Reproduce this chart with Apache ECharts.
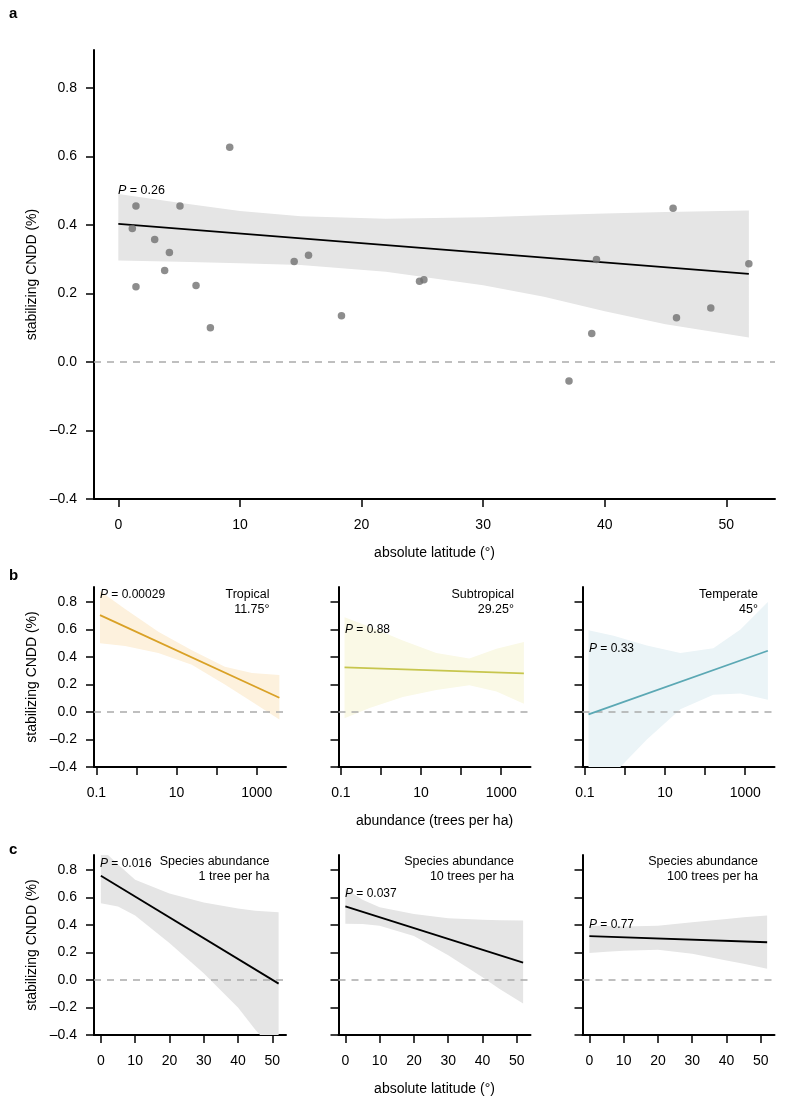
<!DOCTYPE html>
<html>
<head>
<meta charset="utf-8">
<script src="https://cdn.jsdelivr.net/npm/echarts@6/dist/echarts.min.js"></script>
<style>html,body{margin:0;padding:0;background:#fff}#chart{width:792px;height:1100px}</style>
</head>
<body>
<div id="chart"></div>
<script>
// ---------- DATA ----------
// Panel a: site points
const latA = [9.16,1.45,5.07,1.15,2.99,4.2,3.81,1.45,6.39,7.57,14.46,15.64,18.35,24.77,25.13,45.62,39.32,51.85,48.72,45.9,38.93,37.06];
const cnddA = [0.626,0.455,0.455,0.389,0.357,0.319,0.267,0.219,0.223,0.100,0.293,0.311,0.135,0.235,0.240,0.448,0.299,0.286,0.157,0.129,0.083,-0.056];
const fitLatA = [0, 51.85];
const fitA = [0.403, 0.257];
const bandLatA = [0, 5, 10, 15, 22, 30, 35, 40, 45, 51.85];
const bandAUpper = [0.49, 0.464, 0.44, 0.425, 0.418, 0.422, 0.428, 0.433, 0.437, 0.442];
const bandALower = [0.296, 0.292, 0.288, 0.283, 0.263, 0.224, 0.19, 0.148, 0.11, 0.071];

// Panel b: abundance effect by climate zone
const zonesB = ['Tropical', 'Subtropical', 'Temperate'];
const zoneLatB = ['11.75°', '29.25°', '45°'];
const pB = ['0.00029', '0.88', '0.33'];
const fitAbund = [0.123, 3670];
const fitB = [[0.705, 0.104], [0.325, 0.281], [-0.017, 0.446]];
const bandAbund = [0.123, 0.52, 3.5, 24, 160, 760, 3670];
const bandBUpper = [
  [0.88, 0.75, 0.585, 0.45, 0.33, 0.285, 0.27],
  [0.69, 0.62, 0.52, 0.43, 0.39, 0.46, 0.51],
  [0.595, 0.555, 0.485, 0.43, 0.465, 0.60, 0.80]
];
const bandBLower = [
  [0.50, 0.48, 0.43, 0.345, 0.20, 0.075, -0.055],
  [-0.045, 0.03, 0.11, 0.16, 0.195, 0.15, 0.06],
  [-0.63, -0.45, -0.2, 0.02, 0.125, 0.135, 0.09]
];

// Panel c: latitude effect at given species abundance
const abundLabelsC = ['1 tree per ha', '10 trees per ha', '100 trees per ha'];
const pC = ['0.016', '0.037', '0.77'];
const fitLatC = [0, 51.85];
const fitC = [[0.759, -0.026], [0.536, 0.126], [0.319, 0.275]];
const bandLatC = [0, 5, 10, 20, 30, 40, 45, 51.85];
const bandCUpper = [
  [0.96, 0.84, 0.73, 0.63, 0.565, 0.52, 0.505, 0.493],
  [0.667, 0.585, 0.53, 0.48, 0.45, 0.438, 0.435, 0.433],
  [0.396, 0.393, 0.39, 0.395, 0.42, 0.445, 0.457, 0.469]
];
const bandCLower = [
  [0.558, 0.535, 0.47, 0.27, 0.05, -0.2, -0.36, -0.55],
  [0.409, 0.407, 0.395, 0.32, 0.18, 0.02, -0.065, -0.171],
  [0.196, 0.205, 0.213, 0.22, 0.192, 0.143, 0.118, 0.082]
];

// Tick values
const yTicks = [-0.4, -0.2, 0, 0.2, 0.4, 0.6, 0.8];
const latTicksA = [0, 10, 20, 30, 40, 50];
const latTicksC = [0, 10, 20, 30, 40, 50];
const abundTicks = [0.1, 1, 10, 100, 1000];
const abundLabels = [0.1, 10, 1000];

// ---------- STYLE / LAYOUT ----------
const FONT = '"Liberation Sans", Arial, Helvetica, sans-serif';
const lineColorsB = ['#D9A126', '#C7C64E', '#5BA8B4'];
const bandColorsB = ['#FDF1DD', '#FAF9E6', '#EBF4F7'];
const GRAY_BAND = '#E5E5E5';
const colLeft = [94, 338.5, 582.5];
const colW = 192;
const rowB = { top: 587, height: 180 };
const rowC = { top: 855, height: 180 };

const fmtY = v => (v < 0 ? '\u2013' : '') + Math.abs(v).toFixed(1);
const fmtAb = v => (v < 1 ? (+v).toFixed(1) : String(Math.round(v)));

function axisCommon(extra) {
  return Object.assign({
    axisLine: { show: true, onZero: false, lineStyle: { color: '#000', width: 2 } },
    axisTick: { show: true, length: 8, lineStyle: { color: '#000', width: 1.5 } },
    axisLabel: { color: '#000', fontSize: 14, fontFamily: FONT },
    splitLine: { show: false },
    nameTextStyle: { color: '#000', fontSize: 14, fontFamily: FONT },
    nameLocation: 'middle'
  }, extra);
}
function xLat(grid, name, ticks) {
  return axisCommon({
    type: 'value', gridIndex: grid, min: -2, max: 54, name: name || '', nameGap: 47,
    axisTick: { show: true, length: 8, customValues: ticks, lineStyle: { color: '#000', width: 1.5 } },
    axisLabel: { color: '#000', fontSize: 14, fontFamily: FONT, margin: 19, customValues: ticks }
  });
}
function xAb(grid, name) {
  return axisCommon({
    type: 'log', logBase: 10, gridIndex: grid, min: 0.087, max: 5370, name: name || '', nameGap: 47,
    axisTick: { show: true, length: 8, customValues: abundTicks, lineStyle: { color: '#000', width: 1.5 } },
    axisLabel: { color: '#000', fontSize: 14, fontFamily: FONT, margin: 19, customValues: abundLabels, formatter: fmtAb }
  });
}
function yAx(grid, name, showLabels) {
  return axisCommon({
    type: 'value', gridIndex: grid, min: -0.4, max: 0.91, name: name || '', nameGap: 55,
    axisTick: { show: true, length: 8, customValues: yTicks, lineStyle: { color: '#000', width: 1.5 } },
    axisLabel: { show: showLabels, color: '#000', fontSize: 14, fontFamily: FONT, margin: 17, customValues: yTicks, formatter: fmtY }
  });
}
function band(idx, xs, lo, hi, color) {
  return {
    type: 'custom', xAxisIndex: idx, yAxisIndex: idx, clip: true, silent: true, z: 1,
    data: [[xs[0], 0]],
    renderItem: function (params, api) {
      const pts = [];
      for (let i = 0; i < xs.length; i++) pts.push(api.coord([xs[i], hi[i]]));
      for (let i = xs.length - 1; i >= 0; i--) pts.push(api.coord([xs[i], lo[i]]));
      return { type: 'polygon', shape: { points: pts }, style: { fill: color } };
    }
  };
}
function fitLine(idx, xs, ys, color) {
  return {
    type: 'line', xAxisIndex: idx, yAxisIndex: idx, symbol: 'none', silent: true, z: 3,
    data: xs.map((x, i) => [x, ys[i]]),
    lineStyle: { color: color, width: 1.8 },
    markLine: {
      silent: true, symbol: 'none', label: { show: false }, z: 2,
      lineStyle: { color: '#AAAAAA', type: [7, 6], width: 1.5 },
      data: [{ yAxis: 0 }]
    }
  };
}

const grids = [{ left: 94, top: 50, width: 681, height: 449 }];
const xAxes = [xLat(0, 'absolute latitude (°)', latTicksA)];
const yAxes = [yAx(0, 'stabilizing CNDD (%)', true)];
const series = [
  band(0, bandLatA, bandALower, bandAUpper, GRAY_BAND),
  fitLine(0, fitLatA, fitA, '#000'),
  {
    type: 'scatter', xAxisIndex: 0, yAxisIndex: 0, symbolSize: 7.5, z: 4, silent: true,
    itemStyle: { color: '#707070' },
    data: latA.map((x, i) => [x, cnddA[i]])
  }
];
const texts = [];
function pText(x, y, p, size) {
  texts.push({
    type: 'text', left: x, top: y - 8, z: 10,
    style: { text: '{i|P} = ' + p, fill: '#000', font: size + 'px ' + FONT,
      rich: { i: { fontStyle: 'italic', fontSize: size, fontFamily: FONT, fill: '#000' } } }
  });
}
function rText(right, y, lines, size) {
  texts.push({
    type: 'text', z: 10, x: right, y: y - 8,
    style: { text: lines.join('\n'), fill: '#000', font: size + 'px ' + FONT, align: 'right', lineHeight: 15 }
  });
}
pText(118, 192, '0.26', 12.5);

for (let k = 0; k < 3; k++) {
  const gi = 1 + k;
  grids.push({ left: colLeft[k], top: rowB.top, width: colW, height: rowB.height });
  xAxes.push(xAb(gi, k === 1 ? 'abundance (trees per ha)' : ''));
  yAxes.push(yAx(gi, k === 0 ? 'stabilizing CNDD (%)' : '', k === 0));
  series.push(band(gi, bandAbund, bandBLower[k], bandBUpper[k], bandColorsB[k]));
  series.push(fitLine(gi, fitAbund, fitB[k], lineColorsB[k]));
  rText(colLeft[k] + colW - 16.5, 595, [zonesB[k], zoneLatB[k]], 12.5);
}
pText(100, 597, pB[0], 12);
pText(345, 632, pB[1], 12);
pText(589, 651, pB[2], 12);

for (let k = 0; k < 3; k++) {
  const gi = 4 + k;
  grids.push({ left: colLeft[k], top: rowC.top, width: colW, height: rowC.height });
  xAxes.push(xLat(gi, k === 1 ? 'absolute latitude (°)' : '', latTicksC));
  yAxes.push(yAx(gi, k === 0 ? 'stabilizing CNDD (%)' : '', k === 0));
  series.push(band(gi, bandLatC, bandCLower[k], bandCUpper[k], GRAY_BAND));
  series.push(fitLine(gi, fitLatC, fitC[k], '#000'));
  rText(colLeft[k] + colW - 16.5, 862, ['Species abundance', abundLabelsC[k]], 12.5);
}
pText(100, 866, pC[0], 12);
pText(345, 896, pC[1], 12);
pText(589, 927, pC[2], 12);

['a', 'b', 'c'].forEach((t, i) => {
  texts.push({ type: 'text', left: 9, top: [6, 568, 842][i], z: 10,
    style: { text: t, fill: '#000', font: 'bold 15px ' + FONT } });
});

const chart = echarts.init(document.getElementById('chart'), null, { renderer: 'canvas' });
chart.setOption({
  animation: false,
  backgroundColor: '#fff',
  textStyle: { fontFamily: FONT },
  grid: grids,
  xAxis: xAxes,
  yAxis: yAxes,
  series: series,
  graphic: texts
});
</script>
</body>
</html>
